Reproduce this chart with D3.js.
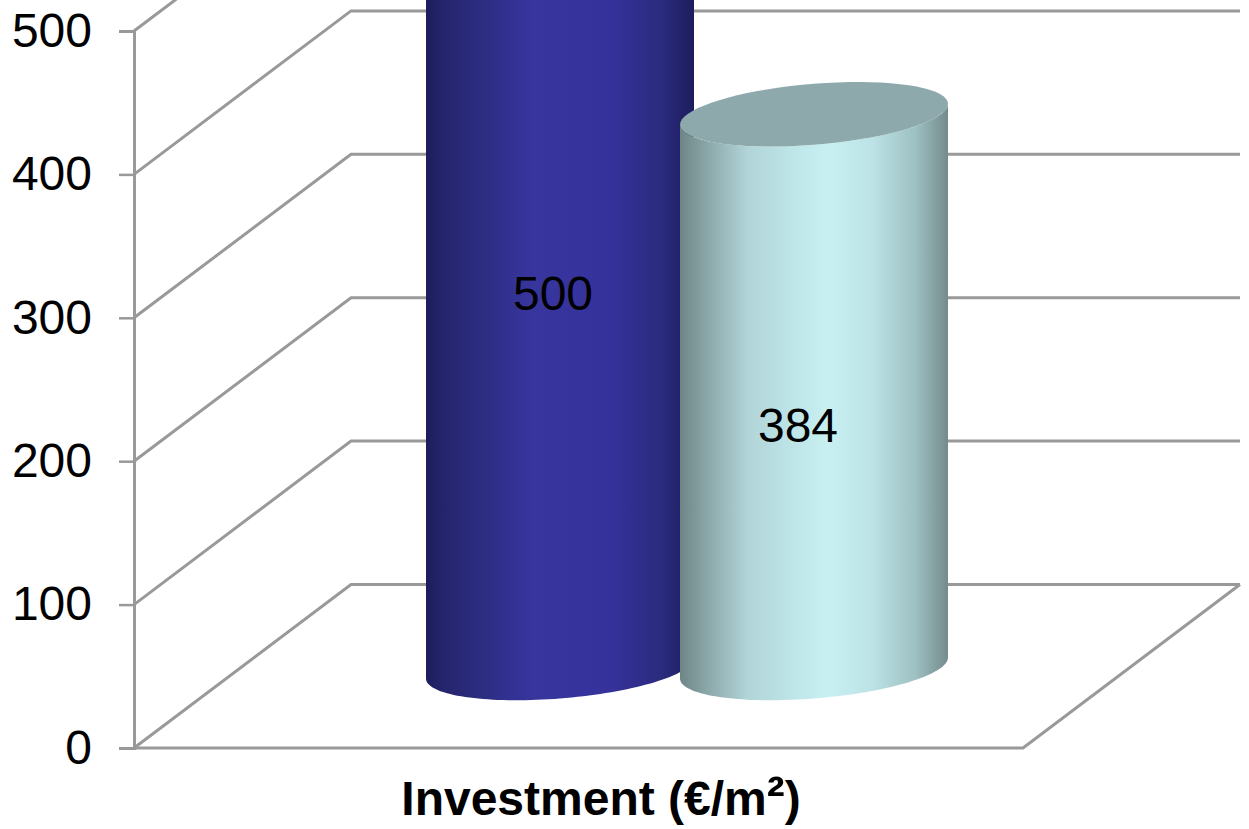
<!DOCTYPE html>
<html>
<head>
<meta charset="utf-8">
<script src="https://cdn.jsdelivr.net/npm/d3@7"></script>
<style>
  html, body { margin: 0; padding: 0; background: #fff; overflow: hidden; }
  svg { display: block; font-family: "Liberation Sans", Arial, sans-serif; }
</style>
</head>
<body>
<svg id="chart" width="1249" height="829"></svg>
<script>
// Investment per square metre, one category with two cylinders.
const series = ["A", "B"];
const values = [500, 384];
const yTicks = [0, 100, 200, 300, 400, 500];
const categoryLabelParts = ["Investment (€/m", "²", ")"];

const blueStops = [
  [0, "#1d1d5c"], [0.07, "#25256e"], [0.2, "#2c2c80"], [0.4, "#38359e"],
  [0.68, "#36329c"], [0.88, "#2b2b7e"], [1, "#1d1d5e"]
];
const tealStops = [
  [0, "#6e8586"], [0.1, "#8aa6a8"], [0.25, "#b1d4d8"], [0.4, "#bce3e6"],
  [0.55, "#c8f0f3"], [0.72, "#bce2e5"], [0.88, "#9dc0c2"], [1, "#748b8c"]
];

const svg = d3.select("#chart");
const grey = "#999999";
const fontSize = 48;

// Front plane of the 3D box and the shift to its back plane.
const y = d3.scaleLinear().domain([0, 500]).range([748, 31]);
const left = 134, right = 1023, depthX = 217, depthY = -163.5;

const gridLayer = svg.append("g")
  .attr("fill", "none").attr("stroke", grey).attr("stroke-width", 3);

// Side wall diagonals and back wall lines for each tick.
gridLayer.selectAll("path.grid").data(yTicks).join("path")
  .attr("class", "grid")
  .attr("d", d => d3.line()([
    [left, y(d)],
    [left + depthX, y(d) + depthY],
    [right + depthX, y(d) + depthY]
  ]));

// Floor edges.
gridLayer.append("path").attr("d", d3.line()([
  [left, y(0)], [right, y(0)], [right + depthX, y(0) + depthY]
]));

// Value axis with its tick marks and labels.
const axis = svg.append("g")
  .attr("transform", `translate(${left},0)`)
  .call(d3.axisLeft(y).tickValues(yTicks).tickSize(15).tickPadding(27));
axis.select(".domain").attr("stroke", grey).attr("stroke-width", 3);
axis.selectAll(".tick line").attr("stroke", grey).attr("stroke-width", 2.5);
axis.selectAll(".tick text")
  .attr("font-size", fontSize).attr("font-family", "'Liberation Sans', Arial, sans-serif")
  .attr("fill", "#000");

// Cylinders sit mid-depth in the box, where the scale is slightly larger.
const cx = d3.scalePoint().domain(series).range([560, 814]);
const cy = d3.scaleLinear().domain([0, 500]).range([668, -53]);
const radius = 134, tilt = -10.5, bulge = 30.5;

// Outline points of a tilted ellipse around (x0, y0) over an angle range.
function ellipseArc(x0, y0, from, to) {
  return d3.range(0, 73).map(i => {
    const t = from + (to - from) * i / 72;
    return [x0 + radius * Math.cos(t), y0 + tilt * Math.cos(t) + bulge * Math.sin(t)];
  });
}

const defs = svg.append("defs");
function addGradient(id, stops) {
  defs.append("linearGradient").attr("id", id)
    .attr("x1", 0).attr("x2", 1).attr("y1", 0).attr("y2", 0)
    .selectAll("stop").data(stops).join("stop")
    .attr("offset", d => d[0]).attr("stop-color", d => d[1]);
}
addGradient("sideA", blueStops);
addGradient("sideB", tealStops);

const sideFill = ["url(#sideA)", "url(#sideB)"];
const capFill = ["#2f2d86", "#8da9ab"];
const bars = svg.append("g").selectAll("g").data(series).join("g");

bars.append("path")
  .attr("fill", (d, i) => sideFill[i])
  .attr("d", (d, i) => {
    const x0 = cx(d), base = cy(0), top = cy(values[i]);
    const lower = ellipseArc(x0, base, 0, Math.PI);
    const upper = ellipseArc(x0, top, Math.PI, 0);
    return d3.line()(lower.concat(upper)) + "Z";
  });

bars.append("path")
  .attr("fill", (d, i) => capFill[i])
  .attr("d", (d, i) => d3.line()(ellipseArc(cx(d), cy(values[i]), 0, 2 * Math.PI)) + "Z");

// Value labels, each nudged off its cylinder's centre line.
const labelShift = [[-7, 310], [-16, 442]];
bars.append("text")
  .attr("x", (d, i) => cx(d) + labelShift[i][0])
  .attr("y", (d, i) => labelShift[i][1])
  .attr("text-anchor", "middle")
  .attr("font-size", fontSize).attr("fill", "#000")
  .text((d, i) => values[i]);

// Category label under the floor; the superscript runs larger than the
// font's own glyph.
const partSize = [fontSize, 54, fontSize];
svg.append("text")
  .attr("x", 601).attr("y", 815)
  .attr("text-anchor", "middle")
  .attr("font-weight", "bold").attr("fill", "#000")
  .selectAll("tspan").data(categoryLabelParts).join("tspan")
  .attr("font-size", (d, i) => partSize[i])
  .text(d => d);
</script>
</body>
</html>
